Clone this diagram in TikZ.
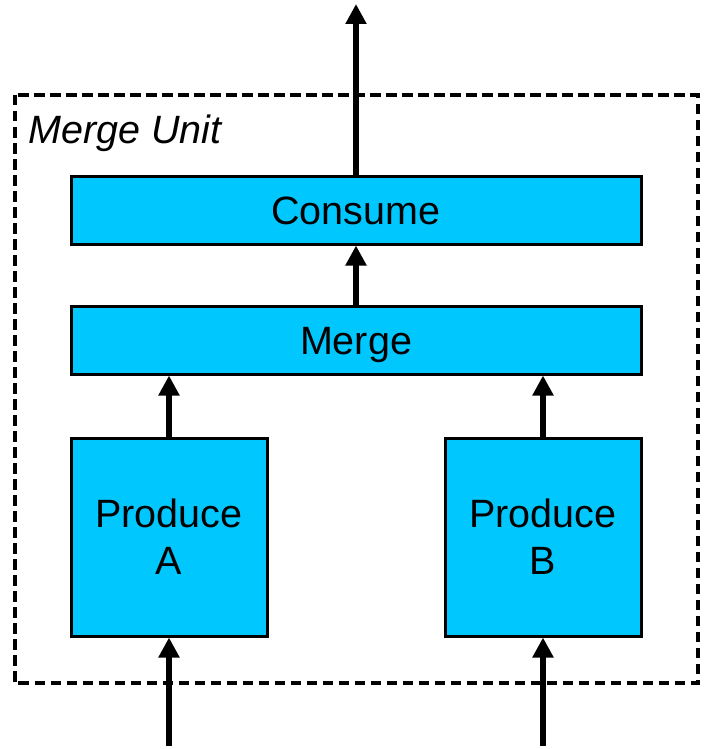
\documentclass[tikz,border=0pt]{standalone}
\usepackage{fontspec}
\setmainfont{Liberation Sans}
\usetikzlibrary{arrows.meta}
\definecolor{boxcyan}{RGB}{0,200,255}
\begin{document}
\begin{tikzpicture}[x=1pt,y=-1pt,
  blk/.style={draw=black,line width=3pt,fill=boxcyan,inner sep=0pt,
    font=\fontsize{39.5}{47}\selectfont,align=center},
  oneline/.style={text height=28.3pt,text depth=0pt},
  flow/.style={line width=6pt,-{Triangle[width=20pt,length=20pt]}}]
\useasboundingbox (0,0) rectangle (711,749);
\draw[line width=4pt,dash pattern=on 10.5pt off 5.5pt] (14.5,95) rectangle (697.5,683);
\node[anchor=base west,font=\fontsize{39.5}{47}\selectfont\itshape] (title) at (25,143) {Merge Unit};
\node[blk,oneline,minimum width=570pt,minimum height=68pt] (consume) at (356,210) {Consume};
\node[blk,oneline,minimum width=570pt,minimum height=68pt] (merge) at (356,340) {Merge};
\node[blk,minimum width=196pt,minimum height=198pt] (pa) at (169,537) {Produce\\A};
\node[blk,minimum width=196pt,minimum height=198pt] (pb) at (543,537) {Produce\\B};
\coordinate (out) at (356,4);
\coordinate (ina) at (169,746);
\coordinate (inb) at (543,746);
\draw[flow] (consume.north) -- (out);
\draw[flow] (merge.north) -- (consume.south);
\draw[flow] (pa.north) -- (pa.north |- merge.south);
\draw[flow] (pb.north) -- (pb.north |- merge.south);
\draw[flow] (ina) -- (pa.south);
\draw[flow] (inb) -- (pb.south);
\end{tikzpicture}
\end{document}
